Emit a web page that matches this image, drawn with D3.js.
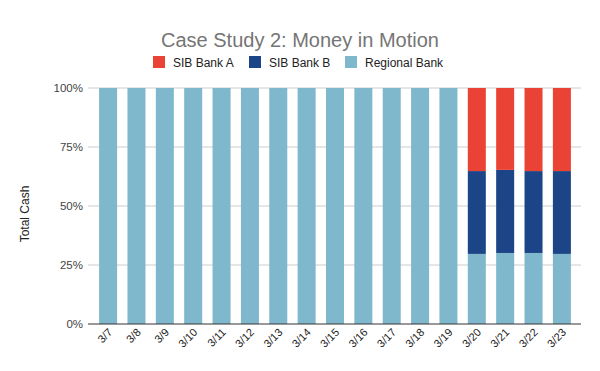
<!DOCTYPE html>
<html>
<head>
<meta charset="utf-8">
<script src="https://cdn.jsdelivr.net/npm/d3@7"></script>
<style>
  body { margin: 0; background: #fff; }
  text { font-family: Arial, "Liberation Sans", sans-serif; }
</style>
</head>
<body>
<svg id="chart" width="600" height="371"></svg>
<script>
// data
var dates = ["3/7","3/8","3/9","3/10","3/11","3/12","3/13","3/14","3/15","3/16","3/17","3/18","3/19","3/20","3/21","3/22","3/23"];
var regionalBank = [1,1,1,1,1,1,1,1,1,1,1,1,1,0.297,0.301,0.301,0.297];
var sibBankB     = [0,0,0,0,0,0,0,0,0,0,0,0,0,0.351,0.352,0.347,0.351];
var sibBankA     = [0,0,0,0,0,0,0,0,0,0,0,0,0,0.352,0.347,0.352,0.352];
var seriesNames = ["SIB Bank A", "SIB Bank B", "Regional Bank"];
var yTicks = [0, 0.25, 0.5, 0.75, 1];

var colors = {"SIB Bank A": "#ea4335", "SIB Bank B": "#1c4587", "Regional Bank": "#7fb7cd"};

var svg = d3.select("#chart");
var plotLeft = 88, plotRight = 581, plotTop = 88, plotBottom = 324;

var rows = dates.map(function(d, i){
    return {date: d, "Regional Bank": regionalBank[i], "SIB Bank B": sibBankB[i], "SIB Bank A": sibBankA[i]};
});

var x = d3.scaleBand().domain(dates).range([94, 576]).paddingInner(0.365).paddingOuter(0.18);
var y = d3.scaleLinear().domain([0, 1]).range([plotBottom, plotTop]);

// gridlines
svg.append("g").selectAll("line").data(yTicks.filter(function(t){ return t > 0; }))
    .enter().append("line")
    .attr("x1", plotLeft).attr("x2", plotRight)
    .attr("y1", function(d){ return y(d); }).attr("y2", function(d){ return y(d); })
    .attr("stroke", "#cccccc").attr("stroke-width", 1);

// stacked bars, regional at the bottom
var stack = d3.stack().keys(["Regional Bank", "SIB Bank B", "SIB Bank A"]);
svg.append("g").selectAll("g").data(stack(rows)).enter().append("g")
    .attr("fill", function(s){ return colors[s.key]; })
    .selectAll("rect").data(function(s){ return s; }).enter().append("rect")
    .attr("x", function(d){ return x(d.data.date); })
    .attr("width", x.bandwidth())
    .attr("y", function(d){ return y(d[1]); })
    .attr("height", function(d){ return Math.max(0, y(d[0]) - y(d[1])); });

// baseline
svg.append("line").attr("x1", plotLeft).attr("x2", plotRight)
    .attr("y1", plotBottom).attr("y2", plotBottom)
    .attr("stroke", "#333").attr("stroke-width", 1);

// y labels
var yAxis = d3.axisLeft(y).tickValues(yTicks).tickFormat(d3.format(".0%")).tickSize(0).tickPadding(5);
var gy = svg.append("g").attr("transform", "translate(" + plotLeft + ",0)").call(yAxis);
gy.select(".domain").remove();
gy.selectAll("text").attr("font-size", 11.5).attr("fill", "#444");

// x labels
var xAxis = d3.axisBottom(x).tickSize(0).tickPadding(0);
var gx = svg.append("g").attr("transform", "translate(0," + plotBottom + ")").call(xAxis);
gx.select(".domain").remove();
gx.selectAll("text")
    .attr("font-size", 11).attr("fill", "#222")
    .attr("text-anchor", "end")
    .attr("dy", null)
    .attr("transform", function(){ return "translate(5,9) rotate(-45)"; });

// y title
svg.append("text").attr("transform", "translate(29,214) rotate(-90)")
    .attr("text-anchor", "middle").attr("font-size", 12).attr("fill", "#222")
    .text("Total Cash");

// title
svg.append("text").attr("x", 300).attr("y", 47).attr("text-anchor", "middle")
    .attr("font-size", 20).attr("fill", "#757575")
    .text("Case Study 2: Money in Motion");

// legend
var legendX = [153, 249, 345];
var lg = svg.append("g").selectAll("g").data(seriesNames).enter().append("g")
    .attr("transform", function(d, i){ return "translate(" + legendX[i] + ",56)"; });
lg.append("rect").attr("width", 12).attr("height", 12)
    .attr("fill", function(d){ return colors[d]; });
lg.append("text").attr("x", 20).attr("y", 10.5).attr("font-size", 12).attr("fill", "#222")
    .text(function(d){ return d; });
</script>
</body>
</html>
